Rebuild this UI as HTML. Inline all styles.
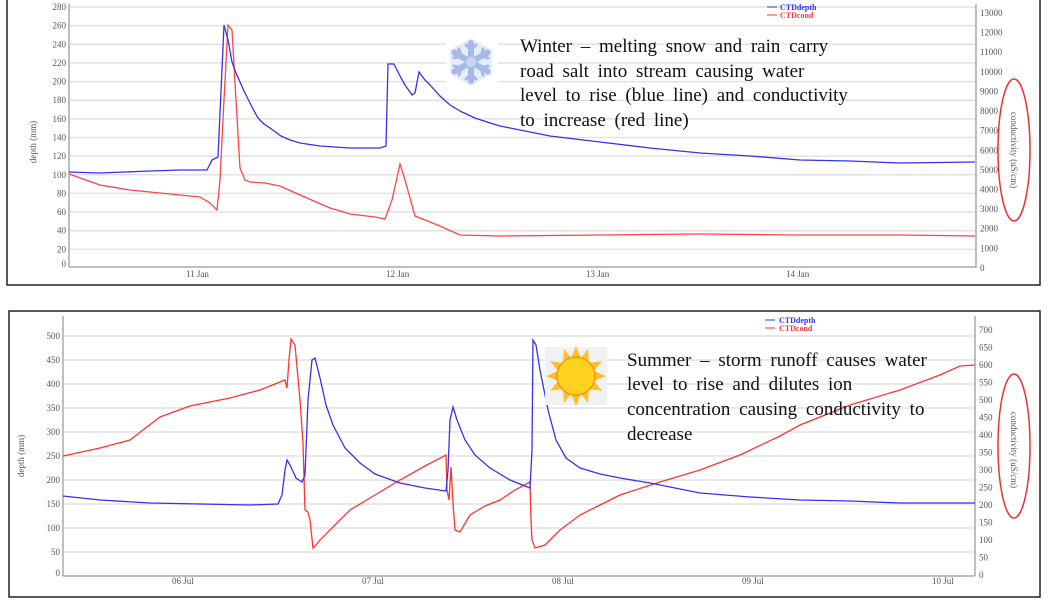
<!DOCTYPE html>
<html><head><meta charset="utf-8"><style>
body{margin:0;background:#fff;}
svg{display:block;}
.t{font-family:"Liberation Serif",serif;font-size:9px;fill:#555;}
.ann{font-family:"Liberation Serif",serif;font-size:19px;fill:#111;word-spacing:4px;}
.g{stroke:#e2e2e2;stroke-width:1.5;}
</style></head><body>
<svg width="1050" height="600" viewBox="0 0 1050 600" xmlns="http://www.w3.org/2000/svg">
<!-- TOP PANEL -->
<rect x="7" y="-2" width="1033" height="287" fill="#fff" stroke="#222" stroke-width="1.5"/>
<g class="g">
<line x1="69" x2="976" y1="7" y2="7"/><line x1="69" x2="976" y1="25.6" y2="25.6"/><line x1="69" x2="976" y1="44.3" y2="44.3"/><line x1="69" x2="976" y1="62.9" y2="62.9"/><line x1="69" x2="976" y1="81.6" y2="81.6"/><line x1="69" x2="976" y1="100.2" y2="100.2"/><line x1="69" x2="976" y1="118.9" y2="118.9"/><line x1="69" x2="976" y1="137.5" y2="137.5"/><line x1="69" x2="976" y1="156.1" y2="156.1"/><line x1="69" x2="976" y1="174.8" y2="174.8"/><line x1="69" x2="976" y1="193.4" y2="193.4"/><line x1="69" x2="976" y1="212.1" y2="212.1"/><line x1="69" x2="976" y1="230.7" y2="230.7"/><line x1="69" x2="976" y1="249.4" y2="249.4"/>
</g>
<line x1="69" y1="4" x2="69" y2="267" stroke="#aaa" stroke-width="1.5"/>
<line x1="69" y1="267" x2="976" y2="267" stroke="#aaa" stroke-width="1.5"/>
<line x1="976" y1="4" x2="976" y2="268" stroke="#aaa" stroke-width="1.5"/>
<g class="t" text-anchor="end">
<text x="66" y="10">280</text><text x="66" y="28.6">260</text><text x="66" y="47.3">240</text><text x="66" y="65.9">220</text><text x="66" y="84.6">200</text><text x="66" y="103.2">180</text><text x="66" y="121.9">160</text><text x="66" y="140.5">140</text><text x="66" y="159.1">120</text><text x="66" y="177.8">100</text><text x="66" y="196.4">80</text><text x="66" y="215.1">60</text><text x="66" y="233.7">40</text><text x="66" y="252.4">20</text><text x="66" y="267">0</text>
</g>
<g class="t">
<text x="980" y="16">13000</text><text x="980" y="35.6">12000</text><text x="980" y="55.2">11000</text><text x="980" y="74.8">10000</text><text x="980" y="94.4">9000</text><text x="980" y="114">8000</text><text x="980" y="133.7">7000</text><text x="980" y="153.3">6000</text><text x="980" y="172.9">5000</text><text x="980" y="192.5">4000</text><text x="980" y="212.1">3000</text><text x="980" y="231.7">2000</text><text x="980" y="251.3">1000</text><text x="980" y="271">0</text>
<text x="186" y="277">11 Jan</text><text x="386" y="277">12 Jan</text><text x="586" y="277">13 Jan</text><text x="786" y="277">14 Jan</text>
</g>
<text class="t" transform="translate(36,142) rotate(-90)" text-anchor="middle">depth (mm)</text>
<text class="t" transform="translate(1011,150) rotate(90)" text-anchor="middle">conductivity (uS/cm)</text>
<ellipse cx="1014" cy="150" rx="16" ry="71" fill="none" stroke="#e33" stroke-width="1.5"/>
<polyline fill="none" stroke="#ff4444" stroke-width="1.3" points="69,174 100,185 130,190 150,192 200,197 210,203 217,210 220,180 224,100 228,25 232,30 236,100 240,168 245,180 250,182 265,183 280,186 300,195 330,208 350,214 375,217 385,219 392,200 400,164 405,180 415,216 425,220 440,226 460,235 500,236 600,235 700,234 800,235 900,235 975,236"/>
<polyline fill="none" stroke="#3333ee" stroke-width="1.3" points="69,172 100,173 150,171 180,170 207,170 212,160 218,157 224,25 228,40 232,62 236,73 240,82 244,91 248,99 253,109 258,118 264,124 270,128 281,136 290,140 300,143 320,146 350,148 380,148 386,146 388,64 394,64 400,76 405,85 412,95 415,93 419,72 425,80 430,85 440,96 450,105 462,112 475,118 487,122 500,126 525,131 550,136 600,142 650,148 700,153 750,156 800,160 850,161 900,163 975,162"/>
<g font-family="Liberation Serif,serif" font-size="8" font-weight="bold">
<line x1="767" x2="777" y1="7" y2="7" stroke="#3333ee"/><text x="780" y="10" fill="#3333ee">CTDdepth</text>
<line x1="767" x2="777" y1="15" y2="15" stroke="#ff3333"/><text x="780" y="18" fill="#ff3333">CTDcond</text>
</g>
<!-- snowflake -->
<rect x="446" y="37" width="52" height="51" fill="#fff"/>
<g transform="translate(471,62)">
<polygon points="0,-24 21,-12 21,12 0,24 -21,12 -21,-12" fill="#e6ecfa"/>
<g stroke="#a7b9e6" stroke-width="6" stroke-linecap="round">
<line x1="0" y1="-19" x2="0" y2="19"/><line x1="-16.5" y1="-9.5" x2="16.5" y2="9.5"/><line x1="-16.5" y1="9.5" x2="16.5" y2="-9.5"/>
</g>
<g stroke="#a7b9e6" stroke-width="3" stroke-linecap="round" fill="none">
<polyline points="-5,-17 0,-12 5,-17"/><polyline points="-5,17 0,12 5,17"/>
<polyline points="-17,-4 -10,-6 -12,-13"/><polyline points="17,4 10,6 12,13"/>
<polyline points="17,-4 10,-6 12,-13"/><polyline points="-17,4 -10,6 -12,13"/>
</g>
<circle r="5" fill="#c9d5f3"/>
</g>
<text class="ann" x="520" y="52">Winter  – melting  snow and rain carry</text>
<text class="ann" x="520" y="77">road salt into stream causing water</text>
<text class="ann" x="520" y="101">level  to rise (blue line)  and conductivity</text>
<text class="ann" x="520" y="126">to increase  (red line)</text>

<!-- BOTTOM PANEL -->
<rect x="9" y="311" width="1031" height="286" fill="#fff" stroke="#222" stroke-width="1.5"/>
<g class="g">
<line x1="63" x2="975" y1="336" y2="336"/><line x1="63" x2="975" y1="360" y2="360"/><line x1="63" x2="975" y1="384" y2="384"/><line x1="63" x2="975" y1="408" y2="408"/><line x1="63" x2="975" y1="432" y2="432"/><line x1="63" x2="975" y1="456" y2="456"/><line x1="63" x2="975" y1="480" y2="480"/><line x1="63" x2="975" y1="504" y2="504"/><line x1="63" x2="975" y1="528" y2="528"/><line x1="63" x2="975" y1="552" y2="552"/>
</g>
<line x1="63" y1="316" x2="63" y2="576" stroke="#aaa" stroke-width="1.5"/>
<line x1="63" y1="576" x2="975" y2="576" stroke="#aaa" stroke-width="1.5"/>
<line x1="975" y1="316" x2="975" y2="576" stroke="#aaa" stroke-width="1.5"/>
<g class="t" text-anchor="end">
<text x="60" y="339">500</text><text x="60" y="363">450</text><text x="60" y="387">400</text><text x="60" y="411">350</text><text x="60" y="435">300</text><text x="60" y="459">250</text><text x="60" y="483">200</text><text x="60" y="507">150</text><text x="60" y="531">100</text><text x="60" y="555">50</text><text x="60" y="576">0</text>
</g>
<g class="t">
<text x="979" y="333">700</text><text x="979" y="350.5">650</text><text x="979" y="368">600</text><text x="979" y="385.5">550</text><text x="979" y="403">500</text><text x="979" y="420.5">450</text><text x="979" y="438">400</text><text x="979" y="455.5">350</text><text x="979" y="473">300</text><text x="979" y="490.5">250</text><text x="979" y="508">200</text><text x="979" y="525.5">150</text><text x="979" y="543">100</text><text x="979" y="560.5">50</text><text x="979" y="578">0</text>
<text x="172" y="584">06 Jul</text><text x="362" y="584">07 Jul</text><text x="552" y="584">08 Jul</text><text x="742" y="584">09 Jul</text><text x="932" y="584">10 Jul</text>
</g>
<text class="t" transform="translate(24,456) rotate(-90)" text-anchor="middle">depth (mm)</text>
<text class="t" transform="translate(1011,450) rotate(90)" text-anchor="middle">conductivity (uS/cm)</text>
<ellipse cx="1014" cy="446" rx="16" ry="72" fill="none" stroke="#e33" stroke-width="1.5"/>
<polyline fill="none" stroke="#ff3333" stroke-width="1.3" points="63,456 100,448 130,440 160,417 190,406 230,398 260,390 285,380 287,388 289,360 291,339 295,345 300,400 303,443 305,510 308,512 310,520 313,548 316,545 320,540 335,525 350,510 375,495 400,480 425,466 446,455 447,490 449,500 451,467 453,503 455,530 460,532 470,515 485,506 500,500 515,490 530,482 531,520 532,540 535,548 545,545 560,530 580,515 600,505 620,495 660,482 700,470 740,455 780,436 800,425 850,405 900,390 940,375 960,366 975,365"/>
<polyline fill="none" stroke="#3333ee" stroke-width="1.3" points="63,496 100,500 150,503 200,504 250,505 278,504 282,495 285,470 287,460 290,465 296,478 302,482 305,475 308,400 312,360 315,358 320,378 326,405 333,425 345,448 360,463 375,474 400,483 425,488 446,491 448,470 450,420 453,407 457,420 465,440 475,455 490,468 510,480 530,488 532,450 533,340 536,345 540,370 548,410 556,440 566,458 580,468 600,474 620,478 650,483 700,493 750,497 800,500 850,501 900,503 975,503"/>
<g font-family="Liberation Serif,serif" font-size="8" font-weight="bold">
<line x1="765" x2="775" y1="320" y2="320" stroke="#3333ee"/><text x="779" y="323" fill="#3333ee">CTDdepth</text>
<line x1="765" x2="775" y1="328" y2="328" stroke="#ff3333"/><text x="779" y="331" fill="#ff3333">CTDcond</text>
</g>
<!-- sun -->
<rect x="545" y="347" width="62" height="58" fill="#f1f1f3"/>
<g transform="translate(576,376)">
<polygon fill="#fbc02d" points="0,-30 5,-18 12,-27 13,-13 26,-15 18,-5 30,0 18,5 26,15 13,13 12,27 5,18 0,30 -5,18 -12,27 -13,13 -26,15 -18,5 -30,0 -18,-5 -26,-15 -13,-13 -12,-27 -5,-18"/>
<circle r="19" fill="#ffd21f" stroke="#f29a1a" stroke-width="1.5"/>
</g>
<text class="ann" x="627" y="366">Summer  – storm runoff causes water</text>
<text class="ann" x="627" y="390">level  to rise and dilutes ion</text>
<text class="ann" x="627" y="415">concentration  causing conductivity  to</text>
<text class="ann" x="627" y="440">decrease</text>
</svg>
</body></html>
